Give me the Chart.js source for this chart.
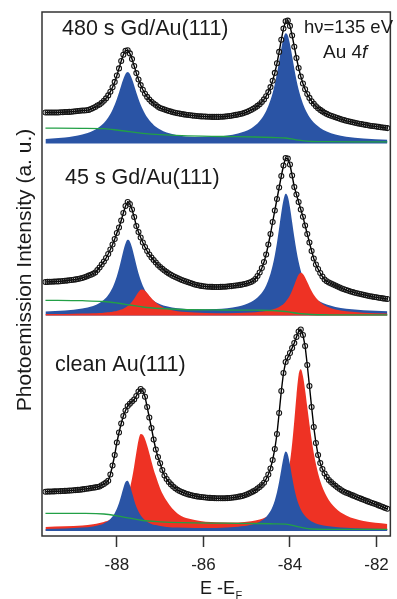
<!DOCTYPE html>
<html>
<head>
<meta charset="utf-8">
<script src="https://cdn.jsdelivr.net/npm/chart.js@4.4.1/dist/chart.umd.min.js"></script>
<style>
  html, body { margin: 0; padding: 0; background: #fff; }
  canvas { display: block; }
</style>
</head>
<body>
<canvas id="chart" width="397" height="599"></canvas>
<script>
// energy grids, E - E_F in eV
const dataEnergy = [
  -89.65, -89.6, -89.55, -89.5, -89.45, -89.4, -89.35, -89.3, -89.25, -89.2, -89.15, -89.1, -89.05, -89.0, -88.95, -88.9, -88.85, -88.8, -88.75, -88.7, -88.65, -88.6, -88.55, -88.5,
  -88.45, -88.4, -88.35, -88.3, -88.25, -88.2, -88.15, -88.1, -88.05, -88.0, -87.95, -87.9, -87.85, -87.8, -87.75, -87.7, -87.65, -87.6, -87.55, -87.5, -87.45, -87.4, -87.35, -87.3, -87.25, -87.2, -87.15, -87.1, -87.05, -87.0,
  -86.95, -86.9, -86.85, -86.8, -86.75, -86.7, -86.65, -86.6, -86.55, -86.5, -86.45, -86.4, -86.35, -86.3, -86.25, -86.2, -86.15, -86.1, -86.05, -86.0, -85.95, -85.9, -85.85, -85.8, -85.75, -85.7, -85.65, -85.6, -85.55, -85.5, -85.45, -85.4, -85.35, -85.3, -85.25, -85.2, -85.15, -85.1, -85.05, -85.0, -84.95, -84.9, -84.85, -84.8,
  -84.75, -84.7, -84.65, -84.6, -84.55, -84.5, -84.45, -84.4, -84.35, -84.3, -84.25, -84.2, -84.15, -84.1, -84.05, -84.0, -83.95, -83.9, -83.85, -83.8, -83.75, -83.7, -83.65, -83.6, -83.55, -83.5, -83.45, -83.4, -83.35, -83.3, -83.25, -83.2,
  -83.15, -83.1, -83.05, -83.0, -82.95, -82.9, -82.85, -82.8, -82.75, -82.7, -82.65, -82.6, -82.55, -82.5, -82.45, -82.4, -82.35, -82.3, -82.25, -82.2, -82.15, -82.1, -82.05, -82.0, -81.95, -81.9, -81.85, -81.8, -81.75
];
const compEnergy = [
  -89.65, -89.2, -88.8, -88.55, -88.4,
  -88.3, -88.25, -88.2, -88.15, -88.1, -88.05, -88.0, -87.95, -87.9, -87.85, -87.8, -87.75, -87.7, -87.65, -87.6, -87.55, -87.5, -87.45, -87.4, -87.35, -87.3, -87.25, -87.2, -87.15, -87.1,
  -87.0, -86.85, -86.6, -86.2, -85.7, -85.2, -84.9, -84.7, -84.55,
  -84.45, -84.4, -84.35, -84.3, -84.25, -84.2, -84.15, -84.1, -84.05, -84.0, -83.95, -83.9, -83.85, -83.8, -83.75, -83.7, -83.65, -83.6, -83.55, -83.5, -83.45, -83.4,
  -83.3, -83.15, -82.95, -82.7, -82.3, -81.75
];
const bgEnergy = [-89.65, -88.8, -88.3, -88.0, -87.7, -87.4, -87.0, -86.5, -85.5, -84.8, -84.4, -84.1, -83.8, -83.5, -83.1, -82.5, -81.75];
const tickValues = [-88, -86, -84, -82];

// vertical offsets of the three stacked spectra (a.u.)
const panelOffset = [392.5, 220.5, 5];
const panelLabels = ['480 s Gd/Au(111)', '45 s Gd/Au(111)', 'clean Au(111)'];

// 480 s Gd/Au(111)
const topData = [
  31, 31, 31, 31, 31, 31, 31, 31.2, 31.3, 31.5, 31.5, 31.6, 31.8, 32, 32.2, 32.5, 32.7, 33, 33, 33.2, 33.6, 34.5, 35.4, 36.5,
  38, 39, 40.7, 42.7, 45.1, 48.1, 51.8, 56.3, 61.6, 68, 75.1, 82.5, 88.8, 92.8, 93.2, 90.1, 84.4, 77.5, 70.4, 64, 58.4, 53.7, 49.8, 46.6, 44, 41.8, 40, 38.5, 36.8, 35.5,
  34.7, 34, 33.2, 32.5, 31.9, 31.3, 30.8, 30.3, 29.9, 29.5, 29.1, 28.8, 28.5, 28.2, 27.9, 27.7, 27.5, 27.3, 27.1, 27, 26.9, 26.8, 26.7, 26.6, 26.6, 26.6, 26.6, 26.7, 26.8, 27, 27.2, 27.5, 27.8, 28.2, 28.6, 29, 29.5, 30, 30.7, 31.5, 32.4, 33.5, 34.7, 36,
  37.6, 39.3, 41.5, 44.1, 47.3, 51.4, 56.4, 62.7, 70.6, 80.2, 91.6, 103.8, 114.9, 122.2, 122.9, 117.6, 108, 96.8, 85.5, 75.5, 67, 60, 54.2, 49.5, 45.6, 42.3, 39.7, 37.3, 35.3, 33.6, 32.1, 30.7,
  29.6, 28.5, 27.7, 27, 26.2, 25.5, 24.7, 24, 23.4, 22.8, 22.2, 21.7, 21.2, 20.7, 20.2, 19.8, 19.4, 19, 18.6, 18.2, 17.8, 17.5, 17.2, 16.9, 16.6, 16.3, 16, 15.7, 15.4
];
const topBlue = [
  4.5, 6, 9, 12.8, 16.8,
  20.5, 23, 26, 29.5, 33.8, 38.8, 44.5, 51, 58, 64.5, 69.5, 71.4, 69.5, 64.5, 58, 51, 44.5, 38.8, 34, 29.8, 26.2, 23.2, 20.7, 18.6, 16.8,
  14, 11, 8.3, 6.6, 7, 10, 15, 22.5, 32.5,
  43.5, 50.5, 59.5, 70.2, 82.5, 95, 105.4, 110.2, 108.1, 99.5, 87.6, 75, 63.5, 54, 46.2, 39.8, 34.5, 30.2, 26.6, 23.6, 21.1, 19,
  15.6, 12, 9, 6.8, 5, 3.8
];
const topBg = [15.3, 15.2, 14.8, 13.5, 11.8, 10.2, 8.8, 7.8, 7, 6.5, 6, 5.5, 3.3, 2, 1.8, 1.7, 1.6];

// 45 s Gd/Au(111)
const midData = [
  33.5, 33.6, 33.7, 33.8, 33.9, 34, 34.1, 34.3, 34.5, 34.7, 34.9, 35.2, 35.5, 35.8, 36.1, 36.5, 37, 37.5, 38.2, 39, 39.9, 40.8, 41.8, 43,
  45.5, 48, 51, 54, 57.5, 61.5, 66, 71, 76.5, 82.5, 88, 95, 102.5, 109.5, 113.5, 111.5, 106, 98.5, 89.5, 83.5, 78, 73, 68.5, 64.5, 61, 58, 55.5, 53, 50.5, 48.5,
  46.7, 45, 43.4, 42, 40.7, 39.5, 38.5, 37.5, 36.5, 35.5, 34.7, 34, 33.2, 32.5, 31.7, 31, 30.5, 30, 29.6, 29.3, 29, 28.8, 28.7, 28.6, 28.5, 28.5, 28.5, 28.6, 28.7, 28.8, 29, 29.2, 29.4, 29.7, 30, 30.3, 30.6, 31, 31.5, 32, 32.7, 33.5, 34.8, 36.5,
  39.5, 43, 47.5, 53.5, 61, 71, 81.5, 93.5, 105, 116.5, 128, 139.5, 150, 157.5, 157, 151, 140, 128.5, 121, 113.5, 106, 98.8, 90, 81.5, 73, 64.5, 57, 51, 46.5, 42.5, 39, 36,
  34.3, 33, 32, 31, 30, 29, 28, 27, 26.2, 25.5, 24.7, 24, 23.4, 22.8, 22.2, 21.7, 21.2, 20.7, 20.2, 19.7, 19.3, 18.9, 18.5, 18.2, 17.8, 17.5, 17.1, 16.8, 16.5
];
const midBlue = [
  4.0, 5.0, 7.0, 9.6, 12.6,
  15.7, 17.8, 20.5, 23.8, 27.8, 32.9, 39.3, 47, 55.7, 64.7, 72.1, 75.7, 74.1, 68, 59.4, 50.4, 42.2, 35.4, 29.8, 25.3, 21.7, 18.9, 16.5, 14.7, 13.2,
  11.3, 9.2, 7.3, 6.2, 6.5, 9, 13.5, 20.2, 30.1,
  41.8, 49.9, 60.2, 72.8, 87.4, 102.7, 115.5, 121.8, 119, 108.3, 93.6, 78.4, 64.9, 53.7, 44.8, 37.7, 32, 27.6, 24, 21.1, 18.8, 16.8,
  13.8, 10.9, 8.5, 6.7, 5.3, 4.3
];
const midRed = [
  1.5, 1.6, 1.9, 2.2, 2.5,
  2.8, 3, 3.2, 3.5, 3.8, 4.2, 4.6, 5.2, 5.9, 6.8, 7.9, 9.4, 11.3, 13.7, 16.7, 20.2, 23.5, 25.8, 26, 24.8, 22.5, 19.8, 17.2, 15, 13,
  9.8, 6.8, 4.3, 3, 2.3, 2.5, 3, 3.7, 4.6,
  5.4, 6, 6.7, 7.5, 8.5, 9.9, 11.6, 13.8, 16.7, 20.3, 24.9, 30.4, 36.2, 40.9, 42.8, 41.5, 38, 33.5, 28.8, 24.5, 20.8, 17.8,
  13.2, 9, 6, 4.2, 2.8, 2.1
];
const midBg = [15.2, 14.8, 14, 12.5, 10.5, 8.5, 7, 6, 5.5, 5.3, 5, 4, 2, 1, 0.7, 0.6, 0.6];

// clean Au(111)
const botData = [
  39.3, 39.4, 39.4, 39.5, 39.6, 39.7, 39.8, 39.9, 40, 40.1, 40.2, 40.4, 40.5, 40.7, 40.9, 41.1, 41.3, 41.6, 41.9, 42.2, 42.5, 42.9, 43.2, 43.6,
  44, 44.5, 45.8, 47, 48.5, 50.3, 56.5, 65.5, 76, 88.5, 98.5, 107.5, 115, 120.5, 125, 127.3, 129.5, 131.5, 135, 139.5, 142, 140, 134.3, 124, 113.5, 103, 91.5, 81.5, 74, 67.7,
  61, 55.5, 52, 49, 46.6, 44.5, 42.7, 41.2, 40, 39, 38.1, 37.3, 36.6, 36, 35.5, 35, 34.6, 34.3, 34, 33.7, 33.5, 33.3, 33.1, 33, 32.9, 32.8, 32.7, 32.7, 32.7, 32.8, 32.9, 33, 33.2, 33.5, 33.8, 34.2, 34.6, 35, 35.7, 36.5, 37.4, 38.5, 39.6, 40.8,
  42.5, 44, 46, 48.3, 52, 56.5, 62.5, 71, 82, 97, 118, 140, 158, 169, 173.5, 178, 183, 188, 194, 199.5, 201.5, 196, 185, 166, 145, 124, 104, 88, 76, 68, 62, 57.5,
  54, 51, 49, 47, 45.2, 43.5, 42, 40.5, 39.3, 38.3, 37.4, 36.5, 35.6, 34.7, 33.8, 33, 32.1, 31.3, 30.4, 29.6, 28.8, 28, 27.2, 26.5, 25.6, 24.8, 23.9, 23, 22.2
];
const botBlue = [
  2.1, 2.5, 3.4, 4.6, 6,
  7.6, 8.7, 10.1, 12, 14.5, 17.8, 22.2, 28, 35.3, 43.1, 49.1, 50.3, 45.9, 38.4, 30.8, 24.3, 19.4, 15.7, 12.9, 10.8, 9.2, 8, 7.1, 6.3, 6,
  5, 4.1, 3.4, 3, 3.1, 4.3, 6.2, 9.3, 14,
  20, 24.5, 30.6, 38.7, 49.2, 61.5, 73.2, 79.4, 76.6, 66.5, 53.9, 42.6, 33.6, 26.8, 21.6, 17.8, 15, 12.7, 11, 9.6, 8.5, 7.6,
  6.3, 5, 3.9, 3.2, 2.5, 2.1
];
const botRed = [
  4.1, 4.7, 5.6, 6.8, 8,
  9.1, 9.7, 10.6, 11.5, 12.7, 14.1, 15.9, 18.1, 20.8, 24.3, 28.8, 34.8, 42.5, 52.5, 64.8, 78.5, 90.8, 97.1, 96.2, 92.1, 85.5, 77.7, 69.5, 61.5, 54.9,
  42.5, 30.2, 17.5, 11, 8.7, 8.5, 9.7, 11.5, 14,
  16.6, 18.4, 20.7, 23.4, 26.9, 31.4, 37.2, 44.8, 55.2, 69, 87.2, 110.2, 135.6, 156.1, 161.7, 155, 141, 124, 107, 91.5, 78, 67,
  50, 34.5, 23, 15.5, 10, 7
];
const botBg = [17.7, 17.6, 17, 15.2, 12.8, 10.5, 9.2, 8.3, 7.8, 7.5, 7.2, 6.8, 4.2, 2, 1.7, 1.6, 1.6];

const BLUE = '#2a54a5';
const RED = '#ee3224';
const GREEN = '#22a046';
const FONT = '"Liberation Sans", Arial, Helvetica, sans-serif';

const toPoints = (xs, ys, off) => xs.map((x, i) => ({ x: x, y: ys[i] + off }));

function spectrum(ys, off) {
  return {
    data: toPoints(dataEnergy, ys, off),
    borderColor: '#000',
    borderWidth: 1.4,
    pointRadius: 2.5,
    pointBorderWidth: 1.1,
    pointBorderColor: '#151515',
    pointBackgroundColor: 'rgba(255,255,255,0)',
    fill: false,
    order: 0
  };
}

function background(ys, off) {
  return {
    data: toPoints(bgEnergy, ys, off),
    borderColor: GREEN,
    borderWidth: 1.3,
    pointRadius: 0,
    fill: false,
    cubicInterpolationMode: 'monotone',
    order: 1
  };
}

function component(ys, off, color, order) {
  return {
    data: toPoints(compEnergy, ys, off),
    borderColor: color,
    borderWidth: 0,
    backgroundColor: color,
    pointRadius: 0,
    fill: { value: off },
    cubicInterpolationMode: 'monotone',
    order: order
  };
}

const datasets = [
  spectrum(topData, panelOffset[0]),
  background(topBg, panelOffset[0]),
  component(topBlue, panelOffset[0], BLUE, 3),

  spectrum(midData, panelOffset[1]),
  background(midBg, panelOffset[1]),
  component(midRed, panelOffset[1], RED, 2),
  component(midBlue, panelOffset[1], BLUE, 3),

  spectrum(botData, panelOffset[2]),
  background(botBg, panelOffset[2]),
  component(botBlue, panelOffset[2], BLUE, 2),
  component(botRed, panelOffset[2], RED, 3)
];

// frame and all text that sits on the plot
const textPlugin = {
  id: 'textPlugin',
  afterDraw(chart) {
    const ctx = chart.ctx;
    const a = chart.chartArea;
    ctx.save();
    ctx.strokeStyle = '#333';
    ctx.lineWidth = 1.5;
    ctx.strokeRect(a.left, a.top, a.right - a.left, a.bottom - a.top);

    ctx.fillStyle = '#1a1a1a';
    ctx.textAlign = 'left';
    ctx.textBaseline = 'alphabetic';
    ctx.font = '21.5px ' + FONT;
    ctx.fillText(panelLabels[0], 62, 35);
    ctx.fillText(panelLabels[1], 65, 184);
    ctx.fillText(panelLabels[2], 55, 370.5);

    ctx.font = '18.5px ' + FONT;
    ctx.fillText('h\u03bd=135 eV', 304, 33);
    ctx.font = '19px ' + FONT;
    ctx.fillText('Au 4', 323, 57.5);
    const w = ctx.measureText('Au 4').width;
    ctx.font = 'italic 19px ' + FONT;
    ctx.fillText('f', 323 + w, 57.5);

    // x axis title E - E_F
    ctx.font = '18px ' + FONT;
    ctx.fillText('E -E', 200, 594);
    const wx = ctx.measureText('E -E').width;
    ctx.font = '11px ' + FONT;
    ctx.fillText('F', 200 + wx + 0.5, 599);

    // y axis title
    ctx.translate(31, 270);
    ctx.rotate(-Math.PI / 2);
    ctx.textAlign = 'center';
    ctx.font = '21px ' + FONT;
    ctx.fillText('Photoemission Intensity (a. u.)', 0, 0);
    ctx.restore();
  }
};

new Chart(document.getElementById('chart'), {
  type: 'line',
  data: { datasets: datasets },
  options: {
    responsive: false,
    animation: false,
    devicePixelRatio: 1,
    layout: { padding: { left: 42, top: 12, right: 2, bottom: 0 } },
    plugins: { legend: { display: false }, tooltip: { enabled: false } },
    scales: {
      x: {
        type: 'linear',
        min: -89.73,
        max: -81.68,
        afterBuildTicks: (axis) => { axis.ticks = tickValues.map(v => ({ value: v })); },
        afterFit: (axis) => { axis.height = 63; },
        grid: { drawOnChartArea: false, drawTicks: true, tickLength: 11, tickColor: '#333', tickWidth: 1.5 },
        border: { display: false },
        ticks: {
          autoSkip: false,
          maxRotation: 0,
          padding: 8,
          color: '#222',
          font: { family: FONT, size: 17 },
          callback: (v) => String(v)
        }
      },
      y: {
        display: false,
        min: 0,
        max: 524
      }
    }
  },
  plugins: [textPlugin]
});
</script>
</body>
</html>
